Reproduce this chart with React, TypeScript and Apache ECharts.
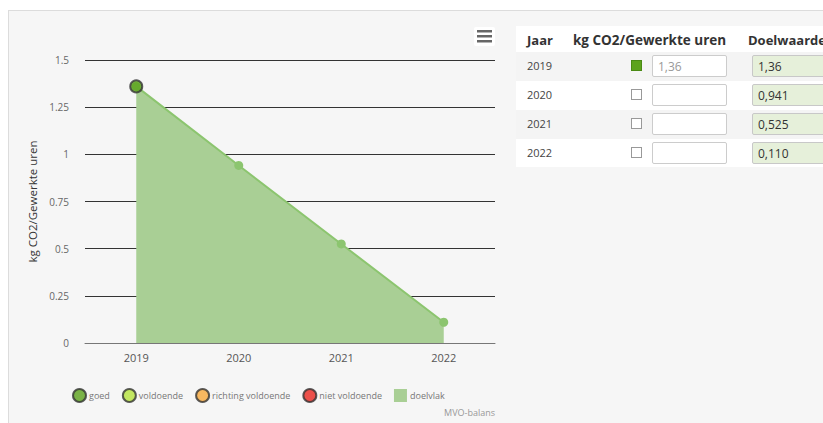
import React, { useEffect, useRef } from "react";
import * as echarts from "echarts";

const years = ["2019", "2020", "2021", "2022"];
const doelwaarden = [1.36, 0.941, 0.525, 0.11];
const doelLabels = ["1,36", "0,941", "0,525", "0,110"];
const goed = [1.36, null, null, null];
const voldoende: (number | null)[] = [null, null, null, null];
const richting: (number | null)[] = [null, null, null, null];
const nietVoldoende: (number | null)[] = [null, null, null, null];
const ingevuld = ["1,36", "", "", ""];
const statusKleur = ["#5da31c", null, null, null];
const yTicks = [0, 0.25, 0.5, 0.75, 1, 1.25, 1.5];

const FONT = "'Open Sans', 'DejaVu Sans', sans-serif";

export default function App() {
  const ref = useRef<HTMLDivElement>(null);
  useEffect(() => {
    if (!ref.current) return;
    const chart = echarts.init(ref.current, undefined, { renderer: "svg" });
    const dot = (name: string, color: string, data: (number | null)[]) => ({
      name,
      type: "scatter",
      data,
      symbol: "circle",
      symbolSize: 12,
      itemStyle: { color, borderColor: "#333", borderWidth: 2 },
      z: 5,
    });
    chart.setOption({
      animation: false,
      textStyle: { fontFamily: FONT },
      grid: { left: 85, right: 20, top: 60, bottom: 80 },
      xAxis: {
        type: "category",
        data: years,
        boundaryGap: true,
        axisLine: { lineStyle: { color: "#777", width: 1 } },
        axisTick: { alignWithLabel: true, length: 6, lineStyle: { color: "#333" } },
        axisLabel: { color: "#555", fontSize: 11, margin: 9, fontFamily: FONT },
      },
      yAxis: {
        type: "value",
        min: yTicks[0],
        max: yTicks[yTicks.length - 1],
        interval: 0.25,
        name: "kg CO2/Gewerkte uren",
        nameLocation: "middle",
        nameGap: 46,
        nameTextStyle: { color: "#333", fontSize: 11.5, fontFamily: FONT },
        axisLine: { show: false },
        axisTick: { show: false },
        axisLabel: { color: "#666", fontSize: 10, margin: 16, fontFamily: FONT },
        splitLine: { lineStyle: { color: "#333", width: 1 } },
      },
      legend: {
        left: 67,
        top: 383,
        itemWidth: 13,
        itemHeight: 13,
        itemGap: 12,
        textStyle: { color: "#777", fontSize: 9, fontFamily: FONT, padding: [0, 0, 0, -2] },
        data: [
          { name: "goed" },
          { name: "voldoende" },
          { name: "richting voldoende" },
          { name: "niet voldoende" },
          { name: "doelvlak", icon: "rect", itemStyle: { color: "#a9cf95", borderWidth: 0 } },
        ],
      },
      graphic: [
        { type: "rect", shape: { x: 474, y: 27, width: 21, height: 19, r: 2 }, style: { fill: "#ffffff" } },
        { type: "rect", shape: { x: 477, y: 30, width: 15, height: 2.5 }, style: { fill: "#666" } },
        { type: "rect", shape: { x: 477, y: 35, width: 15, height: 2.5 }, style: { fill: "#666" } },
        { type: "rect", shape: { x: 477, y: 40, width: 15, height: 2.5 }, style: { fill: "#666" } },
        {
          type: "text",
          right: 20,
          top: 408,
          style: { text: "MVO-balans", fill: "#999", fontSize: 9, fontFamily: FONT },
        },
      ],
      series: [
        {
          name: "doelvlak",
          type: "line",
          data: doelwaarden,
          symbol: "circle",
          symbolSize: 9,
          lineStyle: { color: "#8cc56f", width: 2 },
          itemStyle: { color: "#8cc56f" },
          areaStyle: { color: "#a9cf95", opacity: 1 },
          z: 2,
        },
        dot("goed", "#5da31c", goed),
        dot("voldoende", "#b7e33c", voldoende),
        dot("richting voldoende", "#f9a93b", richting),
        dot("niet voldoende", "#e8271f", nietVoldoende),
      ],
    });
    return () => chart.dispose();
  }, []);

  const rowTop = (i: number) => 52 + i * 29;

  return (
    <div style={{ position: "fixed", left: 0, top: 0, width: 823, height: 423, background: "#fff", overflow: "hidden", fontFamily: FONT }}>
      <div style={{ position: "absolute", left: 8, top: 10, width: 830, height: 430, background: "#f6f6f6", border: "1px solid #dcdcdc", boxSizing: "border-box" }} />
      <div ref={ref} style={{ position: "absolute", left: 0, top: 0, width: 515, height: 423 }} />
      <div style={{ position: "absolute", left: 516, top: 26, width: 307, height: 141, background: "#fff", overflow: "hidden" }}>
        <div style={{ position: "absolute", left: 11, top: 5, fontSize: 13, fontWeight: 700, color: "#333" }}>Jaar</div>
        <div style={{ position: "absolute", left: 57, top: 5, fontSize: 13.5, fontWeight: 700, color: "#333", whiteSpace: "nowrap" }}>kg CO2/Gewerkte uren</div>
        <div style={{ position: "absolute", left: 232, top: 5, fontSize: 13, fontWeight: 700, color: "#333", whiteSpace: "nowrap" }}>Doelwaarde</div>
        {years.map((y, i) => (
          <div key={y} style={{ position: "absolute", left: 0, top: rowTop(i) - 26, width: 320, height: 29, background: i % 2 === 0 ? "#f4f4f4" : "#fff" }}>
            <div style={{ position: "absolute", left: 11, top: 6, fontSize: 11, color: "#444" }}>{y}</div>
            <div style={{ position: "absolute", left: 115, top: 8, width: 11, height: 11, boxSizing: "border-box", border: statusKleur[i] ? "1px solid #4a8a14" : "1px solid #999", background: statusKleur[i] || "#fff" }} />
            <div style={{ position: "absolute", left: 136, top: 3, width: 75, height: 22, boxSizing: "border-box", border: "1px solid #ccc", borderRadius: 2, background: "#fff", fontSize: 12, color: "#999", padding: "2px 0 0 5px" }}>{ingevuld[i]}</div>
            <div style={{ position: "absolute", left: 236, top: 3, width: 100, height: 22, boxSizing: "border-box", border: "1px solid #c8c8c8", borderRadius: 2, background: "#e6f0da", fontSize: 12, color: "#333", padding: "2px 0 0 5px" }}>{doelLabels[i]}</div>
          </div>
        ))}
      </div>
    </div>
  );
}
